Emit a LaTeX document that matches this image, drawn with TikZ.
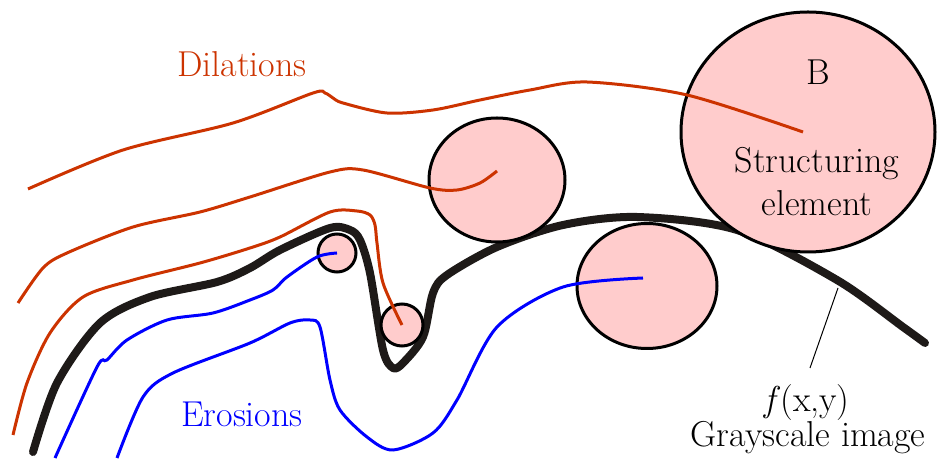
\documentclass[tikz,border=0pt]{standalone}
\usepackage{tikz}
\usetikzlibrary{shapes.geometric}
\definecolor{dilred}{RGB}{204,51,0}
\definecolor{eroblue}{RGB}{0,0,255}
\definecolor{blobpink}{RGB}{255,204,204}
\definecolor{imgblack}{RGB}{30,26,24}
\tikzset{
  blob/.style={draw,ellipse,fill=blobpink,line width=1.5pt,inner sep=0pt},
  dil/.style={draw=dilred,line width=1.5pt},
  ero/.style={draw=eroblue,line width=1.5pt},
  img/.style={draw=imgblack,line width=4pt,line cap=round,line join=round},
  lbl/.style={font=\fontsize{18}{21.5}\selectfont,inner sep=0pt}
}

\begin{document}
\begin{tikzpicture}[x=0.5pt,y=-0.5pt]
\useasboundingbox (0,0) rectangle (939,459);
% the grayscale image
\draw[img] plot[smooth,tension=0.5] coordinates {(33,452) (57,383) (100,323) (150,297) (217,282) (250,268) (280,250) (330,228) (350,230) (360,240) (370,273) (383,350) (393,368) (403,363) (423,337) (433,293) (447,275) (497,247) (563,225) (637,217) (737,230) (837,280) (903,327) (925,343)};
% structuring elements
\node[blob,minimum width=127pt,minimum height=120pt] (B) at (808,132) {};
\node[blob,minimum width=68pt,minimum height=62pt] (b2) at (497,180) {};
\node[blob,minimum width=70pt,minimum height=62.5pt] (b4) at (647,286) {};
\node[blob,circle,minimum size=19pt] (sa) at (337,253) {};
\node[blob,circle,minimum size=21pt] (sb) at (402,325) {};
\node[lbl] (Bname) at (818,72) {B};
\node[lbl,align=center] (Btxt) at (817,182) {Structuring\\element};
% dilations
\draw[dil] plot[smooth,tension=0.5] coordinates {(28,189) (123,150) (233,123) (313,93) (325,93) (333,98) (343,103) (387,113) (433,110) (480,100) (530,90) (587,82) (687,95) (803,132)};
\draw[dil] plot[smooth,tension=0.5] coordinates {(18,303) (43,268) (67,253) (133,227) (200,212) (250,197) (330,172) (363,170) (430,188) (457,190) (480,183) (497,171)};
\draw[dil] plot[smooth,tension=0.5] coordinates {(13,435) (27,383) (50,333) (83,297) (133,280) (200,263) (250,248) (280,237) (330,212) (357,211) (370,215) (375,225) (377,243) (383,283) (sb.center)};
% erosions
\draw[ero] plot[smooth,tension=0.5] coordinates {(55,458) (97,367) (107,360) (127,340) (167,320) (213,313) (250,300) (273,290) (287,277) (317,257) (sa.center)};
\draw[ero] plot[smooth,tension=0.5] coordinates {(117,458) (143,397) (173,373) (250,343) (290,323) (310,320) (320,327) (330,380) (340,410) (367,437) (393,450) (433,433) (457,400) (497,327) (563,287) (643,278)};
% labels
\node[lbl,text=dilred] (dilname) at (242,64) {Dilations};
\node[lbl,text=eroblue] (eroname) at (242,414) {Erosions};
\node[lbl] (fxy) at (807,403) {\textit{f}(x,y)};
\node[lbl] (gray) at (808,438) {Grayscale image};
\coordinate (lead) at (838,288);
\coordinate (leadend) at (810,368);
\draw[line width=0.5pt] (lead) -- (leadend);
\end{tikzpicture}
\end{document}
